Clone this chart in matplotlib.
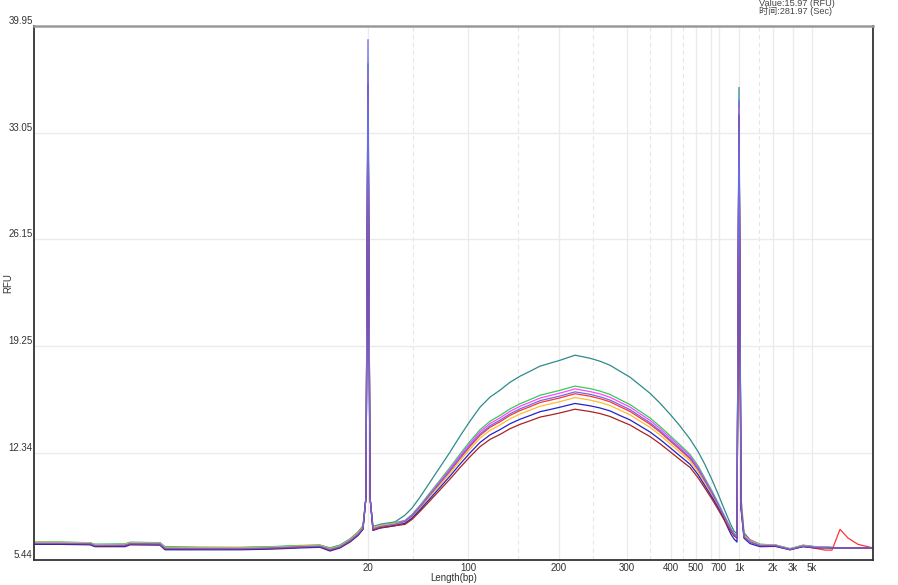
import matplotlib
matplotlib.use("Agg")
import matplotlib.pyplot as plt

plt.rcParams['font.family'] = ['Liberation Sans', 'Noto Sans CJK SC', 'DejaVu Sans']

# migration time (sec) of the sampled points
time = [30.0, 37.8, 46.8, 48.3, 57.3, 58.8, 67.8, 69.3, 79.8, 91.8,
        100.8, 109.8, 115.8, 118.8, 121.8, 124.8, 127.2, 128.7, 129.6, 130.2,
        130.8, 131.7, 133.8, 138.3,
        141.3, 143.4, 145.8, 148.8, 151.8, 154.8, 157.8, 160.8, 163.8, 166.8,
        169.8, 172.8, 175.8, 178.8, 181.8, 184.8, 187.8, 192.3, 196.8, 199.8,
        202.8, 205.8, 208.8, 211.8, 214.8, 217.8, 220.8, 223.8, 226.8, 229.2,
        231.3, 233.4, 235.2, 236.7, 238.2, 239.1, 240.0, 240.9,
        241.5, 242.1, 243.0, 244.8, 247.8, 252.3, 256.8, 260.7, 264.3, 267.3,
        269.4, 271.8, 274.2, 277.2, 281.7]

# RFU per sample
teal = [6.58, 6.58, 6.56, 6.45, 6.45, 6.58, 6.56, 6.28, 6.26, 6.25,
        6.28, 6.36, 6.40, 6.22, 6.40, 6.80, 7.25, 7.65, 9.5, 37.5,
        9.5, 7.60, 7.75, 7.90,
        8.34, 8.79, 9.50, 10.47, 11.44, 12.41, 13.44, 14.41, 15.31, 15.96,
        16.41, 16.92, 17.31, 17.63, 17.96, 18.15, 18.34, 18.67, 18.47, 18.28,
        18.02, 17.63, 17.25, 16.73, 16.21, 15.57, 14.86, 14.10, 13.25, 12.45,
        11.60, 10.62, 9.72, 8.92, 8.15, 7.70, 7.31, 7.12,
        35.96, 9.5, 7.20, 6.75, 6.45, 6.41, 6.15, 6.40, 6.30, 6.30,
        6.25, 6.22, 6.22, 6.22, 6.22]
green = [6.60, 6.60, 6.55, 6.45, 6.48, 6.58, 6.55, 6.30, 6.25, 6.25,
         6.30, 6.38, 6.40, 6.20, 6.38, 6.78, 7.22, 7.62, 9.5, 37.0,
         9.5, 7.55, 7.70, 7.85,
         8.00, 8.38, 8.97, 9.79, 10.60, 11.42, 12.28, 13.10, 13.85, 14.40,
         14.78, 15.20, 15.53, 15.80, 16.08, 16.24, 16.40, 16.67, 16.51, 16.35,
         16.13, 15.80, 15.48, 15.05, 14.61, 14.07, 13.47, 12.88, 12.26, 11.53,
         10.71, 9.90, 9.14, 8.48, 7.84, 7.46, 7.13, 6.97,
         34.5, 9.0, 7.10, 6.70, 6.45, 6.42, 6.18, 6.38, 6.30, 6.28,
         6.25, 6.22, 6.22, 6.22, 6.22]
magenta = [6.55, 6.55, 6.52, 6.40, 6.42, 6.52, 6.50, 6.22, 6.20, 6.20,
           6.24, 6.32, 6.36, 6.14, 6.32, 6.72, 7.15, 7.55, 9.5, 37.0,
           9.5, 7.50, 7.65, 7.80,
           7.97, 8.34, 8.92, 9.72, 10.52, 11.32, 12.17, 12.97, 13.72, 14.25,
           14.62, 15.04, 15.37, 15.63, 15.90, 16.06, 16.22, 16.49, 16.32, 16.17,
           15.95, 15.63, 15.32, 14.89, 14.46, 13.93, 13.34, 12.76, 12.16, 11.43,
           10.63, 9.83, 9.09, 8.44, 7.81, 7.44, 7.12, 6.96,
           34.8, 9.0, 7.05, 6.70, 6.42, 6.40, 6.15, 6.36, 6.28, 6.26,
           6.24, 6.22, 6.22, 6.22, 6.22]
periwinkle = [6.52, 6.52, 6.50, 6.38, 6.40, 6.50, 6.48, 6.20, 6.18, 6.18,
              6.22, 6.30, 6.34, 6.12, 6.30, 6.70, 7.12, 7.52, 9.5, 39.05,
              9.5, 7.45, 7.60, 7.75,
              7.93, 8.30, 8.87, 9.66, 10.44, 11.23, 12.06, 12.85, 13.58, 14.11,
              14.47, 14.88, 15.20, 15.46, 15.73, 15.88, 16.03, 16.30, 16.14, 15.98,
              15.77, 15.46, 15.15, 14.73, 14.31, 13.79, 13.21, 12.64, 12.05, 11.34,
              10.55, 9.76, 9.04, 8.40, 7.78, 7.42, 7.10, 6.95,
              35.1, 9.0, 6.95, 6.60, 6.38, 6.38, 6.12, 6.34, 6.26, 6.24,
              6.22, 6.22, 6.22, 6.22, 6.22]
red = [6.48, 6.48, 6.46, 6.32, 6.34, 6.45, 6.44, 6.15, 6.14, 6.14,
       6.18, 6.26, 6.30, 6.08, 6.26, 6.65, 7.08, 7.48, 9.5, 36.5,
       9.5, 7.40, 7.55, 7.70,
       7.91, 8.27, 8.84, 9.62, 10.39, 11.17, 11.99, 12.77, 13.49, 14.01,
       14.37, 14.78, 15.09, 15.34, 15.61, 15.76, 15.91, 16.18, 16.02, 15.86,
       15.66, 15.34, 15.04, 14.62, 14.21, 13.70, 13.13, 12.56, 11.98, 11.27,
       10.50, 9.72, 9.00, 8.38, 7.76, 7.40, 7.09, 6.94,
       34.5, 9.0, 7.00, 6.65, 6.40, 6.36, 6.10, 6.32, 6.20, 6.08,
       6.08, 7.42, 6.86, 6.45, 6.22]
orange = [6.58, 6.58, 6.54, 6.42, 6.44, 6.55, 6.52, 6.24, 6.22, 6.22,
          6.26, 6.34, 6.38, 6.16, 6.34, 6.74, 7.18, 7.58, 9.5, 36.8,
          9.5, 7.52, 7.66, 7.80,
          7.87, 8.22, 8.77, 9.53, 10.29, 11.04, 11.85, 12.60, 13.31, 13.81,
          14.16, 14.56, 14.87, 15.12, 15.37, 15.52, 15.67, 15.93, 15.77, 15.62,
          15.42, 15.12, 14.82, 14.41, 14.01, 13.51, 12.95, 12.40, 11.84, 11.15,
          10.39, 9.63, 8.93, 8.32, 7.72, 7.37, 7.07, 6.92,
          34.6, 9.0, 7.02, 6.66, 6.42, 6.40, 6.14, 6.36, 6.26, 6.26,
          6.24, 6.22, 6.22, 6.22, 6.22]
blue = [6.45, 6.45, 6.42, 6.30, 6.30, 6.42, 6.40, 6.10, 6.10, 6.10,
        6.14, 6.22, 6.26, 6.02, 6.22, 6.60, 7.02, 7.42, 9.5, 36.2,
        9.5, 7.35, 7.50, 7.65,
        7.81, 8.14, 8.68, 9.40, 10.13, 10.86, 11.63, 12.36, 13.03, 13.52,
        13.86, 14.24, 14.53, 14.77, 15.02, 15.16, 15.31, 15.55, 15.40, 15.26,
        15.07, 14.77, 14.49, 14.10, 13.71, 13.23, 12.70, 12.16, 11.63, 10.96,
        10.23, 9.50, 8.83, 8.24, 7.50, 7.10, 6.80, 6.60,
        34.2, 8.8, 6.85, 6.50, 6.30, 6.32, 6.10, 6.30, 6.22, 6.22,
        6.22, 6.22, 6.22, 6.22, 6.22]
darkred = [6.50, 6.50, 6.48, 6.34, 6.36, 6.46, 6.44, 6.16, 6.14, 6.14,
           6.18, 6.26, 6.30, 6.06, 6.26, 6.64, 7.06, 7.46, 9.5, 36.0,
           9.5, 7.38, 7.52, 7.66,
           7.74, 8.06, 8.58, 9.27, 9.97, 10.67, 11.41, 12.11, 12.76, 13.23,
           13.55, 13.92, 14.20, 14.43, 14.67, 14.80, 14.94, 15.18, 15.03, 14.90,
           14.71, 14.43, 14.16, 13.78, 13.41, 12.95, 12.44, 11.92, 11.42, 10.76,
           10.07, 9.37, 8.72, 8.16, 7.60, 7.28, 7.00, 6.86,
           34.0, 8.8, 6.90, 6.60, 6.36, 6.36, 6.12, 6.32, 6.24, 6.24,
           6.22, 6.22, 6.22, 6.22, 6.22]

series = [
    (teal, "#2e8b8b"),
    (green, "#33cc55"),
    (magenta, "#ff44ff"),
    (red, "#ff3333"),
    (orange, "#ffbb33"),
    (blue, "#2222cc"),
    (darkred, "#aa2222"),
    (periwinkle, "#6b6bea"),
]

# size ladder: bp -> migration time
ladder_bp = [20, 100, 200, 300, 400, 500, 600, 700, 1000, 2000, 3000, 5000]
ladder_time = [130.2, 160.2, 187.5, 207.9, 221.1, 228.6, 233.1, 235.5, 241.5, 251.7, 257.7, 263.4]
ladder_labels = ["20", "100", "200", "300", "400", "500", "", "700", "1k", "2k", "3k", "5k"]
minor_time = [143.7, 175.2, 197.7, 214.8, 224.7, 247.5]

yticks = [5.44, 12.34, 19.25, 26.15, 33.05, 39.95]

fig = plt.figure(figsize=(8.98, 5.85), dpi=100)
ax = fig.add_axes([34/898, 1 - 560/585, 839/898, (560 - 25.7)/585])

for t in ladder_time:
    ax.axvline(t, color="#ebebeb", lw=1.0, zorder=0)
for t in minor_time:
    ax.axvline(t, color="#e6e6e6", lw=0.8, ls=(0, (4, 3)), zorder=0)
for y in yticks[1:-1]:
    ax.axhline(y, color="#ebebeb", lw=1.0, zorder=0)

for vals, c in series:
    ax.plot(time, vals, color=c, lw=0.9)

ax.set_xlim(30.0, 281.7)
ax.set_ylim(5.44, 39.95)
ax.set_xticks(ladder_time)
ax.set_xticklabels(ladder_labels)
ax.set_yticks(yticks)
ax.set_yticklabels([f"{v:.2f}" for v in yticks])
for lab in ax.get_yticklabels():
    lab.set_va("bottom")
ax.tick_params(length=0, labelsize=7, colors="#333333")
ax.tick_params(axis="y", pad=1)
ax.tick_params(axis="x", pad=2)

ax.set_xlabel("Length(bp)", fontsize=7, color="#333333", labelpad=0)
fig.text(8/898, 1 - 283/585, "RFU", fontsize=7, color="#333333",
         rotation=90, ha="center", va="center")

for side in ["left", "bottom", "right"]:
    ax.spines[side].set_color("#333333")
    ax.spines[side].set_linewidth(1.3)
ax.spines["top"].set_color("#999999")
ax.spines["top"].set_linewidth(1.8)

fig.text(759/898, 1 - 6/585, "Value:15.97 (RFU)", fontsize=6.6, color="#444444", va="baseline", ha="left")
fig.text(759/898, 1 - 14.5/585, "时间:281.97 (Sec)", fontsize=6.6, color="#444444", va="baseline", ha="left")

fig.savefig("out.png", dpi=100)
